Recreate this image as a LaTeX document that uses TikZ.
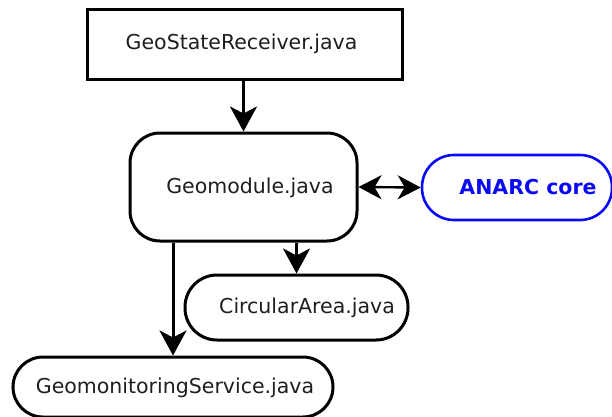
\documentclass[tikz,border=0pt]{standalone}
\usepackage{fontspec}
\setmainfont{DejaVu Sans}
\usetikzlibrary{arrows.meta}
\definecolor{anarcblue}{RGB}{10,10,245}
\definecolor{txt}{RGB}{30,30,30}
\begin{document}
\begin{tikzpicture}[x=1pt,y=-1pt,
  box/.style={draw=black,line width=3pt,inner sep=0pt},
  lbl/.style={inner sep=0pt,text=txt,font=\fontsize{20.5}{24}\selectfont},
  conn/.style={line width=3pt,-{Stealth[length=25pt,width=27pt,inset=7pt]}},
  bconn/.style={line width=2.4pt,{Stealth[length=23pt,width=24pt,inset=7pt]}-{Stealth[length=23pt,width=24pt,inset=7pt]}}]
\useasboundingbox (0,0) rectangle (612,416);
\begin{scope}
\clip (0,0) rectangle (612,416);
\node[box,minimum width=315pt,minimum height=70pt] (gsr) at (244.5,44) {};
\node[lbl] (gsrt) at (241.5,44) {GeoStateReceiver.java};
\node[box,rounded corners=30pt,minimum width=227pt,minimum height=108pt] (gm) at (243.5,187) {};
\node[lbl] (gmt) at (250,188) {Geomodule.java};
\node[box,draw=anarcblue,line width=2.6pt,rounded corners=32pt,minimum width=190pt,minimum height=65pt] (an) at (517,187.5) {};
\node[lbl,text=anarcblue,font=\fontsize{20.5}{24}\selectfont\bfseries] (ant) at (528,187) {ANARC core};
\node[box,rounded corners=32pt,minimum width=223pt,minimum height=65pt] (ca) at (296.5,307.5) {};
\node[lbl] (cat) at (307,308) {CircularArea.java};
\node[box,rounded corners=30pt,minimum width=320pt,minimum height=60pt] (gs) at (173,387) {};
\node[lbl] (gst) at (175,388) {GeomonitoringService.java};
\draw[conn] (gsr.south -| gm.north) -- (gm.north);
\draw[conn] (gm.south -| ca.north) -- (ca.north);
\draw[conn] (gm.south -| gs.north) -- (gs.north);
\draw[bconn] (gm.east) -- (an.west);
\end{scope}
\end{tikzpicture}
\end{document}
